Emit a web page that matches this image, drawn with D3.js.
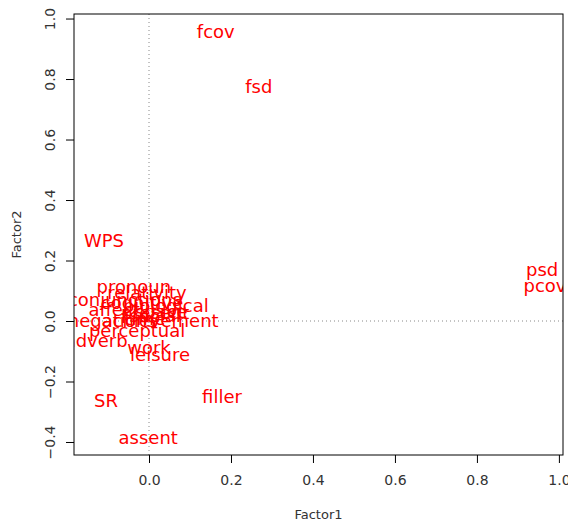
<!DOCTYPE html>
<html>
<head>
<meta charset="utf-8">
<script src="https://cdn.jsdelivr.net/npm/d3@7"></script>
<style>
  body { margin: 0; background: #fff; }
  text { font-family: "DejaVu Sans", sans-serif; }
</style>
</head>
<body>
<div id="chart"></div>
<script>
// factor loadings
var labels  = ["fcov", "fsd", "WPS", "psd", "pcov", "filler", "SR", "assent",
               "pronoun", "relativity", "conjunctions", "cognitive", "biological",
               "affect", "present", "social", "space", "time", "negations",
               "achievement", "perceptual", "adverb", "work", "leisure"];
var factor1 = [0.163, 0.268, -0.110, 0.959, 0.966, 0.178, -0.105, -0.002,
               -0.037, -0.005, -0.059, -0.017, 0.041,
               -0.085, 0.015, 0.015, 0.030, -0.010, -0.090,
               0.027, -0.029, -0.129, 0.000, 0.027];
var factor2 = [0.955, 0.774, 0.264, 0.169, 0.116, -0.251, -0.264, -0.387,
               0.112, 0.093, 0.069, 0.060, 0.050,
               0.036, 0.026, 0.017, 0.030, 0.008, 0.000,
               0.000, -0.033, -0.066, -0.089, -0.112];
var xTicks = [0.0, 0.2, 0.4, 0.6, 0.8, 1.0];
var yTicks = [-0.4, -0.2, 0.0, 0.2, 0.4, 0.6, 0.8, 1.0];

var width = 568, height = 523;
var margin = {left: 74, right: 563, top: 14, bottom: 455};

var svg = d3.select("#chart").append("svg")
    .attr("width", width)
    .attr("height", height);

var x = d3.scaleLinear().domain([-0.183, 1.01]).range([margin.left, margin.right]);
var y = d3.scaleLinear().domain([-0.443, 1.015]).range([margin.bottom, margin.top]);

svg.append("clipPath").attr("id", "plotclip")
  .append("rect")
    .attr("x", margin.left).attr("y", margin.top)
    .attr("width", margin.right - margin.left)
    .attr("height", margin.bottom - margin.top);

// dotted zero lines
svg.append("line")
    .attr("x1", x(0)).attr("x2", x(0))
    .attr("y1", margin.top).attr("y2", margin.bottom)
    .attr("stroke", "#888").attr("stroke-dasharray", "1,3");
svg.append("line")
    .attr("x1", margin.left).attr("x2", margin.right)
    .attr("y1", y(0)).attr("y2", y(0))
    .attr("stroke", "#888").attr("stroke-dasharray", "1,3");

// labels as points
svg.append("g")
    .attr("clip-path", "url(#plotclip)")
  .selectAll("text")
    .data(labels)
  .enter().append("text")
    .attr("x", function(d, i) { return x(factor1[i]); })
    .attr("y", function(d, i) { return y(factor2[i]); })
    .attr("dy", "0.35em")
    .attr("text-anchor", "middle")
    .attr("fill", "#ff0000")
    .style("font-size", "18px")
    .text(function(d) { return d; });

// box
svg.append("rect")
    .attr("x", margin.left).attr("y", margin.top)
    .attr("width", margin.right - margin.left)
    .attr("height", margin.bottom - margin.top)
    .attr("fill", "none").attr("stroke", "#000");

// x axis
var xAxis = svg.append("g")
    .attr("transform", "translate(0," + margin.bottom + ")")
    .call(d3.axisBottom(x).tickValues(xTicks).tickFormat(d3.format(".1f"))
      .tickSize(8).tickPadding(12));
xAxis.select(".domain").remove();
xAxis.selectAll("text").style("font-size", "14px").attr("fill", "#333");

// y axis
var yAxis = svg.append("g")
    .attr("transform", "translate(" + margin.left + ",0)")
    .call(d3.axisLeft(y).tickValues(yTicks).tickFormat(d3.format(".1f"))
      .tickSize(8));
yAxis.select(".domain").remove();
yAxis.selectAll(".tick text")
    .style("font-size", "14px").attr("fill", "#333")
    .attr("text-anchor", "middle")
    .attr("x", 0).attr("dy", "0.35em")
    .attr("transform", "translate(-24,0) rotate(-90)");

// axis titles
svg.append("text")
    .attr("x", (margin.left + margin.right) / 2)
    .attr("y", 519)
    .attr("text-anchor", "middle")
    .attr("fill", "#333")
    .style("font-size", "13px")
    .text("Factor1");

svg.append("text")
    .attr("transform", "translate(21," + ((margin.top + margin.bottom) / 2) + ") rotate(-90)")
    .attr("text-anchor", "middle")
    .attr("fill", "#333")
    .style("font-size", "13px")
    .text("Factor2");
</script>
</body>
</html>
